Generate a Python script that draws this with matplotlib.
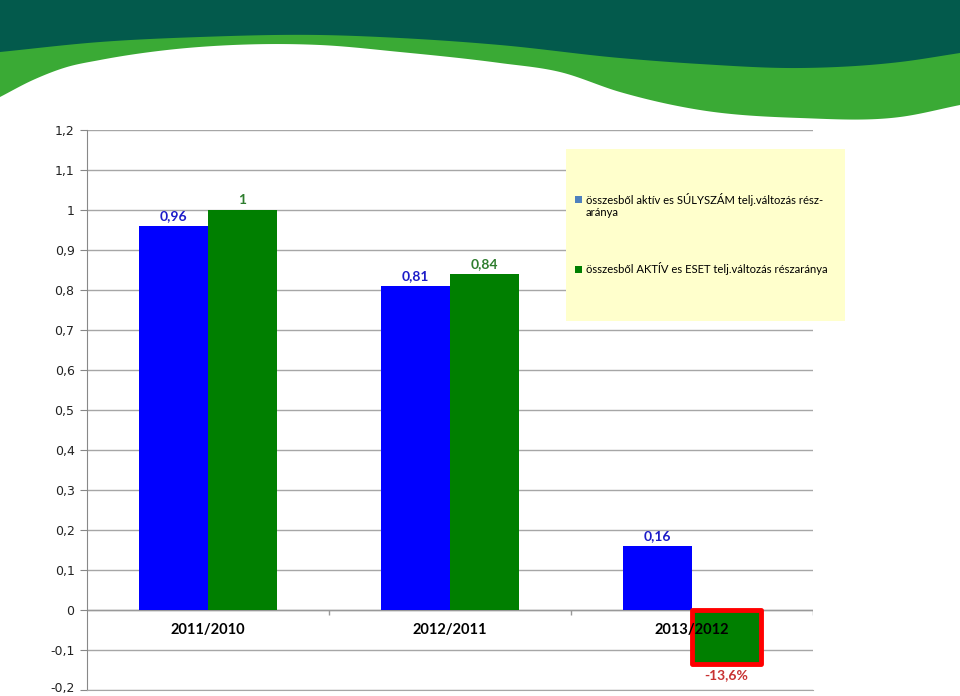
import numpy as np
import matplotlib
matplotlib.use("Agg")
import matplotlib.pyplot as plt
from matplotlib.patches import Rectangle
import matplotlib.transforms as mtransforms

# ---- data ----
categories = ["2011/2010", "2012/2011", "2013/2012"]
series_names = ["összesből aktív es SÚLYSZÁM telj.változás rész-\naránya",
                "összesből AKTÍV es ESET telj.változás részaránya"]
blue_values = [0.96, 0.81, 0.16]
green_values = [1.0, 0.84, -0.136]
blue_labels = ["0,96", "0,81", "0,16"]
green_labels = ["1", "0,84", "-13,6%"]
yticks = [-0.2, -0.1, 0, 0.1, 0.2, 0.3, 0.4, 0.5, 0.6, 0.7, 0.8, 0.9, 1.0, 1.1, 1.2]
ytick_labels = ["-0,2", "-0,1", "0", "0,1", "0,2", "0,3", "0,4", "0,5", "0,6",
                "0,7", "0,8", "0,9", "1", "1,1", "1,2"]

W, H = 960, 696
fig = plt.figure(figsize=(W / 100, H / 100), dpi=100)
fig.patch.set_facecolor("white")

# ---- decorative header ----
bg = fig.add_axes([0, 0, 1, 1], zorder=-5)
bg.set_xlim(0, W)
bg.set_ylim(H, 0)
bg.axis("off")
dark_pts_x = [0, 100, 200, 320, 400, 500, 620, 700, 800, 900, 960]
dark_pts_y = [52, 42, 37, 35, 38, 45, 58, 64, 68, 62, 53]
green_pts_x = [0, 33, 67, 100, 167, 233, 320, 400, 500, 560, 620, 700, 800, 900, 960]
green_pts_y = [97, 80, 67, 60, 50, 45, 45, 52, 63, 72, 92, 110, 118, 117, 105]


def spline(px, py, n=40):
    px = np.asarray(px, float)
    py = np.asarray(py, float)
    m = np.gradient(py, px)
    outx, outy = [], []
    for i in range(len(px) - 1):
        h = px[i + 1] - px[i]
        t = np.linspace(0, 1, n, endpoint=False)
        h00 = 2 * t**3 - 3 * t**2 + 1
        h10 = t**3 - 2 * t**2 + t
        h01 = -2 * t**3 + 3 * t**2
        h11 = t**3 - t**2
        outx.append(px[i] + t * h)
        outy.append(h00 * py[i] + h10 * h * m[i] + h01 * py[i + 1] + h11 * h * m[i + 1])
    outx.append([px[-1]])
    outy.append([py[-1]])
    return np.concatenate(outx), np.concatenate(outy)


gx, gy = spline(green_pts_x, green_pts_y)
dx, dy = spline(dark_pts_x, dark_pts_y)
bg.fill_between(gx, 0, gy, color="#3AAA35", lw=0)
bg.fill_between(dx, 0, dy, color="#035A4C", lw=0)

# ---- main chart ----
ax = fig.add_axes([87 / W, 1 - 690 / H, 726 / W, 560 / H])
ax.set_xlim(-0.5, len(categories) - 0.5)
ax.set_ylim(-0.2, 1.2)
ax.set_yticks(yticks)
ax.set_yticklabels(ytick_labels, fontsize=9, color="#222222", family="DejaVu Sans")
ax.tick_params(axis="y", length=5, color="#888888", pad=4)
# keep the lowest label inside the canvas
lowest = ax.get_yticklabels()[0]
lowest.set_transform(lowest.get_transform() +
                     mtransforms.ScaledTranslation(0, 3 / 100, fig.dpi_scale_trans))
ax.set_xticks([])
ax.yaxis.grid(True, color="#A6A6A6", lw=1)
ax.set_axisbelow(True)
for s in ["top", "right"]:
    ax.spines[s].set_visible(False)
ax.spines["left"].set_color("#888888")
ax.spines["bottom"].set_color("#A6A6A6")
ax.axhline(0, color="#999999", lw=1, zorder=1)
ax.vlines(np.arange(len(categories)) + 0.5, -0.0125, 0, color="#999999", lw=1, zorder=1)

bw = 69 / 242
x = np.arange(len(categories))
bars_b = ax.bar(x - bw / 2, blue_values, bw, color="#0000FF", zorder=2)
bars_g = ax.bar(x + bw / 2, green_values, bw, color="#007F00", zorder=2)
# highlight the negative green bar
for b, v in zip(bars_g, green_values):
    if v < 0:
        b.set_edgecolor("#FF0000")
        b.set_linewidth(3.5)
        b.set_joinstyle("round")
        b.set_zorder(3)

lab_font = dict(family="Lato", fontsize=10, fontweight="bold")
for xi, v, t in zip(x - bw / 2, blue_values, blue_labels):
    ax.annotate(t, (xi, v), xytext=(0, 4), textcoords="offset pixels",
                ha="center", va="bottom", color="#1C1CC8", **lab_font)
for xi, v, t in zip(x + bw / 2, green_values, green_labels):
    if v >= 0:
        ax.annotate(t, (xi, v), xytext=(0, 4), textcoords="offset pixels",
                    ha="center", va="bottom", color="#2E7D2E", **lab_font)
    else:
        ax.annotate(t, (xi, v), xytext=(0, -5), textcoords="offset pixels",
                    ha="center", va="top", color="#C83232", **lab_font)

for xi, c in zip(x, categories):
    ax.annotate(c, (xi, 0), xytext=(0, -20), textcoords="offset pixels",
                ha="center", va="center", family="Lato", fontsize=10.5,
                fontweight="bold", color="black", zorder=5)

# ---- legend box ----
fig.patches.append(Rectangle((566 / W, 1 - 321 / H), (845 - 566) / W, (321 - 149) / H,
                             transform=fig.transFigure, facecolor="#FFFFCC",
                             edgecolor="none", zorder=10))
leg_colors = ["#4F81BD", "#007F00"]
leg_y = [200, 269]
for name, col, yy in zip(series_names, leg_colors, leg_y):
    fig.patches.append(Rectangle((575 / W, 1 - (yy + 3.5) / H), 7 / W, 7 / H,
                                 transform=fig.transFigure, facecolor=col,
                                 edgecolor="none", zorder=11))
    fig.text(586 / W, 1 - (yy - 7) / H, name, ha="left", va="top",
             family="Lato", fontsize=8.1, color="black", zorder=12,
             linespacing=1.1)

fig.savefig("out.png", dpi=100)
